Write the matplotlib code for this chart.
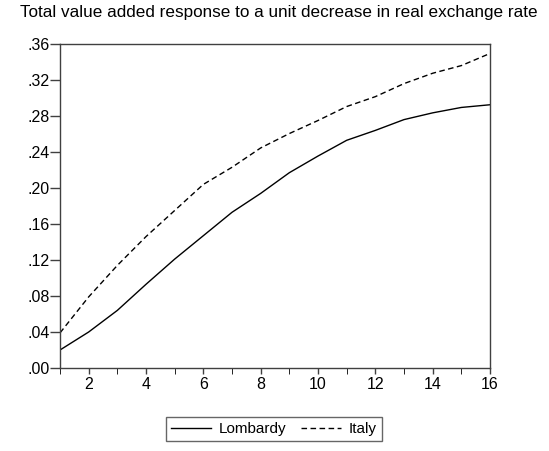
import matplotlib.pyplot as plt
from matplotlib.ticker import MultipleLocator, FuncFormatter

plt.rcParams['font.family'] = ['Liberation Sans', 'DejaVu Sans']

periods = list(range(1, 17))
lombardy = [0.020, 0.040, 0.064, 0.093, 0.121, 0.147, 0.173, 0.194, 0.217,
            0.2355, 0.253, 0.264, 0.276, 0.2835, 0.2895, 0.2925]
italy = [0.039, 0.079, 0.114, 0.146, 0.175, 0.204, 0.223, 0.2445, 0.2605,
         0.275, 0.2905, 0.3015, 0.316, 0.3275, 0.336, 0.3495]

title = "Total value added response to a unit decrease in real exchange rate"

fig = plt.figure(figsize=(5.49, 4.51), dpi=100)
ax = fig.add_axes([60 / 549, 1 - 368 / 451, 430 / 549, 324 / 451])

ax.plot(periods, lombardy, color='black', lw=1.0, label='Lombardy')
ax.plot(periods, italy, color='black', lw=1.0, ls=(0, (4, 2.5)), label='Italy')

ax.set_xlim(1, 16)
ax.set_ylim(0, 0.36)
ax.xaxis.set_major_locator(MultipleLocator(2))
ax.xaxis.set_minor_locator(MultipleLocator(1))
ax.yaxis.set_major_locator(MultipleLocator(0.04))
ax.yaxis.set_major_formatter(FuncFormatter(lambda v, p: f"{v:.2f}".lstrip('0')))
ax.xaxis.set_major_formatter(FuncFormatter(lambda v, p: f"{int(v)}"))

for s in ax.spines.values():
    s.set_color('#404040')
    s.set_linewidth(1.0)
ax.tick_params(axis='both', direction='out', colors='#404040', labelcolor='black',
               labelsize=11.5, width=1.0, top=False, right=False)
ax.tick_params(axis='y', length=7, pad=0.5)
ax.tick_params(axis='x', which='both', length=4.5, pad=2)

fig.text(279 / 549, 1 - 12 / 451, title, ha='center', va='center', fontsize=12.3)

leg = fig.legend(loc='center', bbox_to_anchor=(274 / 549, 1 - 429 / 451), ncol=2,
                 frameon=True, fancybox=False, fontsize=11, handlelength=2.6,
                 columnspacing=1.0, handletextpad=0.5, borderpad=0.35)
leg.get_frame().set_edgecolor('#404040')
leg.get_frame().set_linewidth(1.0)

fig.savefig('out.png', dpi=100)
